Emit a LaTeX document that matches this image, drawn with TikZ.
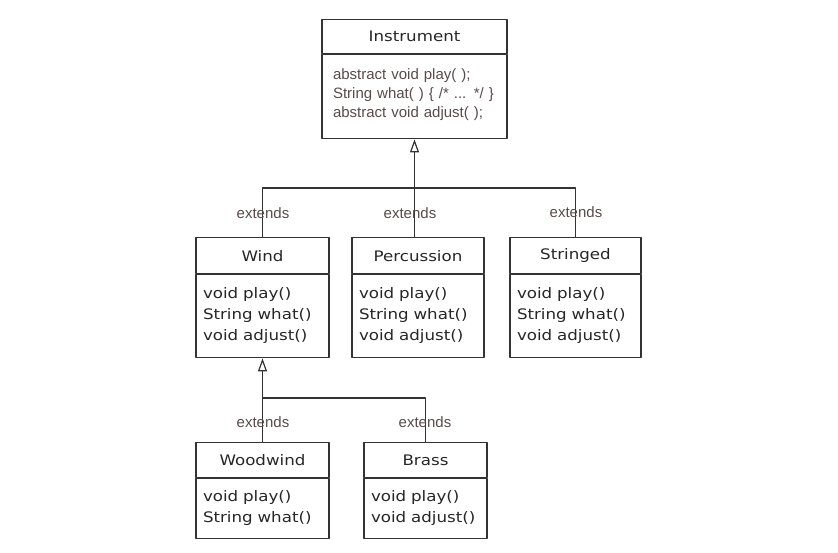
\documentclass[tikz,border=0pt]{standalone}
\usepackage{fontspec}
\newfontfamily\boxfont[FakeStretch=1.15]{DejaVu Sans}
\newfontfamily\labelfont{Liberation Sans}
\usetikzlibrary{arrows.meta,positioning}
\definecolor{linegray}{HTML}{333333}
\definecolor{textgray}{HTML}{262626}
\definecolor{labelbrown}{HTML}{5A4A4A}
\tikzset{
  classhead/.style={draw=linegray, line width=1.2pt, inner sep=0pt, anchor=north,
    font=\boxfont\fontsize{14.5}{17}\selectfont, text=textgray},
  classbody/.style={draw=linegray, line width=1.2pt, anchor=north, align=left,
    inner xsep=7pt, inner ysep=0pt, font=\boxfont\fontsize{14.5}{21}\selectfont, text=textgray},
  extlabel/.style={font=\labelfont\fontsize{15}{17}\selectfont, text=labelbrown, inner sep=0pt},
  inherits/.style={draw=linegray, line width=1.2pt},
  inheritarrow/.style={inherits, -{Triangle[open, length=13pt, width=9pt]}},
}
\begin{document}
\begin{tikzpicture}[x=1pt, y=-1pt, line join=round]
	\useasboundingbox (0,0) rectangle (838,553);
	% base class
	\node[classhead, minimum width=185pt, minimum height=34pt] (instr) at (414.5,19) {Instrument};
	\node[classbody, minimum width=185pt, minimum height=84pt, text width=163pt, inner xsep=11pt,
		font=\labelfont\fontsize{15}{19}\selectfont, text=labelbrown] (instr-body) at (instr.south)
		{abstract void play( );\\String what( ) \{ /* ... */ \}\\abstract void adjust( );\\[-12pt]\mbox{}};
	% first level
	\node[classhead, minimum width=133pt, minimum height=36pt] (wind) at (262.5,237) {Wind};
	\node[classbody, minimum width=133pt, minimum height=83pt, text width=119pt] (wind-body) at (wind.south)
		{void play()\\String what()\\void adjust()\\[-16pt]\mbox{}};
	\node[classhead, minimum width=132pt, minimum height=36pt] (perc) at (418,237) {Percussion};
	\node[classbody, minimum width=132pt, minimum height=83pt, text width=118pt] (perc-body) at (perc.south)
		{void play()\\String what()\\void adjust()\\[-16pt]\mbox{}};
	\node[classhead, minimum width=131pt, minimum height=36pt] (string) at (575.5,237) {Stringed};
	\node[classbody, minimum width=131pt, minimum height=83pt, text width=117pt] (string-body) at (string.south)
		{void play()\\String what()\\void adjust()\\[-16pt]\mbox{}};
	% second level
	\node[classhead, minimum width=133pt, minimum height=35pt] (wood) at (262.5,442) {Woodwind};
	\node[classbody, minimum width=133pt, minimum height=60pt, text width=119pt] (wood-body) at (wood.south)
		{void play()\\String what()\\[-16pt]\mbox{}};
	\node[classhead, minimum width=123pt, minimum height=35pt] (brass) at (425.5,442) {Brass};
	\node[classbody, minimum width=123pt, minimum height=60pt, text width=109pt] (brass-body) at (brass.south)
		{void play()\\void adjust()\\[-16pt]\mbox{}};
	% inheritance lines
	\coordinate (join-top) at (414.5,188);
	\coordinate (join-wind) at (262.5,398);
	\draw[inheritarrow] (perc.north -| instr-body.south) -- (instr-body.south);
	\draw[inherits] (wind.north) |- (join-top) -| (string.north);
	\draw[inheritarrow] (wood.north) -- (wind-body.south);
	\draw[inherits] (join-wind) -| (brass.north);
	% labels
	\node[extlabel] (ext-wind) at (263,213) {extends};
	\node[extlabel] (ext-perc) at (410,213) {extends};
	\node[extlabel] (ext-string) at (576,212) {extends};
	\node[extlabel] (ext-wood) at (263,422) {extends};
	\node[extlabel] (ext-brass) at (425,422) {extends};
\end{tikzpicture}
\end{document}
